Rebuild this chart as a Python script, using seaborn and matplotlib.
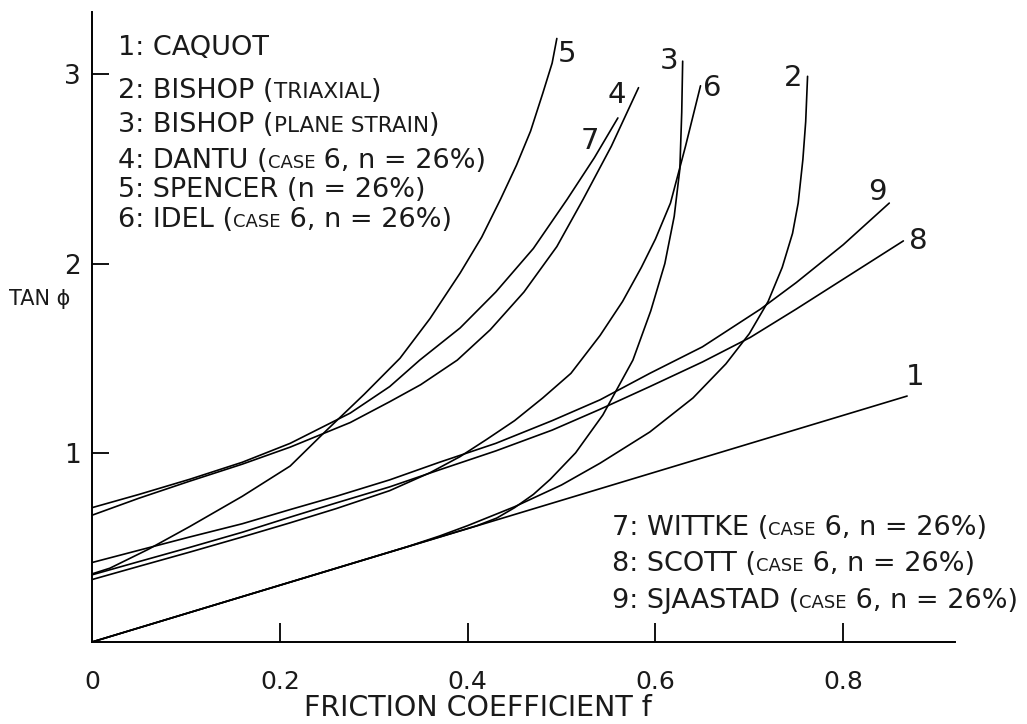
import matplotlib
matplotlib.use("Agg")
import matplotlib.pyplot as plt
import seaborn as sns
import pandas as pd

# ---------------- data ----------------
f_caquot = [0.0, 0.868]
t_caquot = [0.0, 1.30]

f_bishop_tri = [0.0, 0.20, 0.336, 0.37, 0.40, 0.45, 0.50, 0.541, 0.594, 0.64, 0.675, 0.70,
                0.72, 0.735, 0.746, 0.752, 0.757, 0.760, 0.762]
t_bishop_tri = [0.0, 0.30, 0.504, 0.56, 0.615, 0.715, 0.83, 0.945, 1.11, 1.29, 1.47, 1.63,
                1.80, 1.98, 2.16, 2.32, 2.55, 2.75, 2.99]

f_bishop_ps = [0.0, 0.30, 0.41, 0.431, 0.45, 0.47, 0.488, 0.515, 0.544, 0.576, 0.595, 0.61,
               0.62, 0.626, 0.628, 0.629]
t_bishop_ps = [0.0, 0.45, 0.615, 0.655, 0.71, 0.78, 0.86, 1.00, 1.20, 1.49, 1.75, 2.00,
               2.25, 2.50, 2.80, 3.07]

f_dantu = [0.0, 0.05, 0.104, 0.16, 0.211, 0.275, 0.317, 0.35, 0.389, 0.424, 0.46, 0.495,
           0.523, 0.553, 0.582]
t_dantu = [0.67, 0.76, 0.85, 0.94, 1.03, 1.16, 1.27, 1.36, 1.49, 1.65, 1.85, 2.09,
           2.34, 2.62, 2.93]

f_spencer = [0.0, 0.019, 0.06, 0.104, 0.16, 0.211, 0.25, 0.29, 0.328, 0.36, 0.392, 0.415,
             0.435, 0.452, 0.467, 0.48, 0.49, 0.495]
t_spencer = [0.36, 0.39, 0.49, 0.61, 0.77, 0.93, 1.12, 1.31, 1.50, 1.71, 1.95, 2.14,
             2.34, 2.52, 2.70, 2.90, 3.06, 3.19]

f_idel = [0.0, 0.05, 0.104, 0.16, 0.211, 0.26, 0.317, 0.36, 0.392, 0.42, 0.45, 0.48, 0.51,
          0.541, 0.565, 0.585, 0.60, 0.616, 0.632, 0.648]
t_idel = [0.33, 0.40, 0.475, 0.555, 0.63, 0.705, 0.80, 0.895, 0.98, 1.07, 1.17, 1.29, 1.42,
          1.62, 1.80, 1.98, 2.13, 2.32, 2.62, 2.94]

f_wittke = [0.0, 0.05, 0.104, 0.16, 0.211, 0.275, 0.317, 0.349, 0.392, 0.43, 0.47, 0.506,
            0.535, 0.560]
t_wittke = [0.71, 0.78, 0.86, 0.95, 1.05, 1.21, 1.35, 1.49, 1.66, 1.85, 2.08, 2.34,
            2.56, 2.77]

f_scott = [0.0, 0.05, 0.104, 0.16, 0.211, 0.26, 0.317, 0.37, 0.43, 0.49, 0.541, 0.594,
           0.65, 0.701, 0.75, 0.807, 0.864]
t_scott = [0.355, 0.425, 0.50, 0.58, 0.66, 0.735, 0.82, 0.91, 1.01, 1.12, 1.23, 1.35,
           1.48, 1.61, 1.76, 1.94, 2.12]

f_sjaastad = [0.0, 0.05, 0.104, 0.16, 0.211, 0.26, 0.317, 0.37, 0.43, 0.49, 0.541, 0.594,
              0.65, 0.712, 0.75, 0.80, 0.849]
t_sjaastad = [0.42, 0.485, 0.555, 0.625, 0.70, 0.77, 0.857, 0.95, 1.05, 1.17, 1.28, 1.42,
              1.56, 1.76, 1.90, 2.10, 2.32]

curve_numbers = ["1", "2", "3", "4", "5", "6", "7", "8", "9"]
curve_f = [f_caquot, f_bishop_tri, f_bishop_ps, f_dantu, f_spencer, f_idel, f_wittke, f_scott, f_sjaastad]
curve_t = [t_caquot, t_bishop_tri, t_bishop_ps, t_dantu, t_spencer, t_idel, t_wittke, t_scott, t_sjaastad]

# end-label anchors (data coords)
label_f = [0.877, 0.747, 0.614, 0.559, 0.506, 0.661, 0.530, 0.880, 0.836]
label_t = [1.40, 2.98, 3.07, 2.89, 3.106, 2.93, 2.65, 2.12, 2.38]

# legend lines: list of (text, size-kind) pieces
legend_top = [
    [("1: CAQUOT", False)],
    [("2: BISHOP (", False), ("TRIAXIAL", True), (")", False)],
    [("3: BISHOP (", False), ("PLANE STRAIN", True), (")", False)],
    [("4: DANTU (", False), ("CASE", "xs"), (" 6, n = 26%)", False)],
    [("5: SPENCER (n = 26%)", False)],
    [("6: IDEL (", False), ("CASE", "xs"), (" 6, n = 26%)", False)],
]
legend_top_baselines = [55, 98, 132, 168, 197, 227]
legend_bottom = [
    [("7: WITTKE (", False), ("CASE", "xs"), (" 6, n = 26%)", False)],
    [("8: SCOTT (", False), ("CASE", "xs"), (" 6, n = 26%)", False)],
    [("9: SJAASTAD (", False), ("CASE", "xs"), (" 6, n = 26%)", False)],
]
legend_bottom_baselines = [535, 571, 608]

x_ticks = [0.0, 0.2, 0.4, 0.6, 0.8]
x_tick_labels = ["0", "0.2", "0.4", "0.6", "0.8"]
y_ticks = [1, 2, 3]
y_tick_labels = ["1", "2", "3"]

# ---------------- build table ----------------
frames = []
for name, fv, tv in zip(curve_numbers, curve_f, curve_t):
    frames.append(pd.DataFrame({"f": fv, "tan": tv, "curve": name}))
df = pd.concat(frames, ignore_index=True)

# ---------------- plot ----------------
sns.set_theme(style="white")
plt.rcParams["font.family"] = ["DejaVu Sans"]
INK = "#1a1a1a"

W, H = 1027, 724
fig = plt.figure(figsize=(W / 100, H / 100), dpi=100)
ax = fig.add_axes([92 / W, (H - 642) / H, (955 - 92) / W, (642 - 12) / H])

sns.lineplot(data=df, x="f", y="tan", units="curve", estimator=None, sort=False,
             color="black", linewidth=1.2, legend=False, ax=ax)

ax.set_xlim(0, 0.919)
ax.set_ylim(0, 3.33)
for s in ["top", "right"]:
    ax.spines[s].set_visible(False)
for s in ["left", "bottom"]:
    ax.spines[s].set_color("black")
    ax.spines[s].set_linewidth(1.4)

ax.set_xticks(x_ticks)
ax.set_xticklabels(x_tick_labels, fontsize=18, color=INK)
ax.set_yticks(y_ticks)
ax.set_yticklabels(y_tick_labels, fontsize=19, color=INK)
ax.tick_params(axis="x", bottom=True, direction="in", length=14, width=1.3, pad=20, color="black")
ax.tick_params(axis="y", left=True, direction="in", length=12, width=1.3, pad=8, color="black")
ax.xaxis.get_major_ticks()[0].tick1line.set_visible(False)
ax.set_xlabel("")
ax.set_ylabel("")

for n, lf, lt in zip(curve_numbers, label_f, label_t):
    ax.text(lf, lt, n, fontsize=21, ha="center", va="center", color=INK)

renderer = fig.canvas.get_renderer()
SIZES = {False: 19.5, True: 15.5, "xs": 13}


def draw_line(x_px, base_px, pieces):
    x = x_px
    for txt, kind in pieces:
        t = fig.text(x / W, 1 - base_px / H, txt, fontsize=SIZES[kind], ha="left",
                     va="baseline", color=INK)
        bb = t.get_window_extent(renderer)
        x = bb.x1


for pieces, b in zip(legend_top, legend_top_baselines):
    draw_line(118, b, pieces)
for pieces, b in zip(legend_bottom, legend_bottom_baselines):
    draw_line(612, b, pieces)

fig.text(478 / W, 1 - 708 / H, "FRICTION COEFFICIENT f", fontsize=20.5, ha="center",
         va="center", color=INK)
fig.text(40 / W, 1 - 299 / H, "TAN ϕ", fontsize=15, ha="center", va="center", color=INK)

fig.savefig("out.png", dpi=100, facecolor="white")
